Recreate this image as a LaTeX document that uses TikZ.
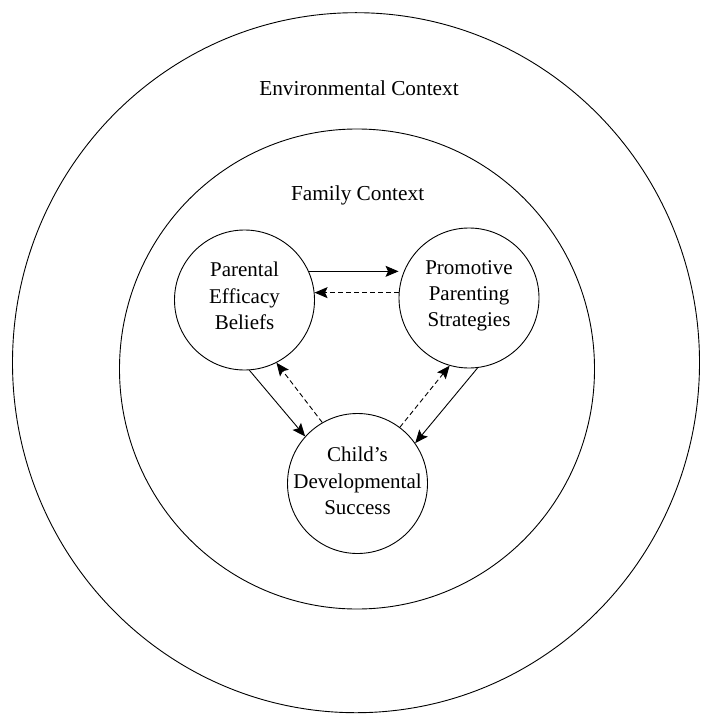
\documentclass[tikz,border=0pt]{standalone}
\usepackage{fontspec}
\setmainfont{Liberation Serif}
\usetikzlibrary{arrows.meta}
\begin{document}
\begin{tikzpicture}[x=1bp,y=-1bp,
  ring/.style={draw, line width=0.9bp},
  bubble/.style={draw, circle, line width=0.9bp, minimum size=140bp, inner sep=0pt},
  inlabel/.style={align=center, font=\fontsize{21bp}{26.3bp}\selectfont, inner sep=0pt},
  ctx/.style={font=\fontsize{21.3bp}{26bp}\selectfont, anchor=base, inner sep=0pt},
  link/.style={line width=0.9bp, -{Stealth[length=13bp,width=11bp,inset=2.5bp]}},
  dlink/.style={link, dash pattern=on 5bp off 3bp}]
\useasboundingbox (0,0) rectangle (701,714);
\draw[ring] (356,362.7) ellipse [x radius=343.5bp, y radius=350bp];
\draw[ring] (357,369) ellipse [x radius=237.5bp, y radius=240bp];
\node[ctx] (env) at (359,95.6) {Environmental Context};
\node[ctx] (fam) at (357.6,200) {Family Context};
\node[bubble, label={[inlabel, yshift=4bp]center:Parental\\Efficacy\\Beliefs}] (par) at (244.5,300) {};
\node[bubble, label={[inlabel, yshift=2bp]center:Promotive\\Parenting\\Strategies}] (pro) at (469,298) {};
\node[bubble, label={[inlabel, yshift=2.5bp]center:Child’s\\Developmental\\Success}] (chi) at (357.5,483.5) {};
\draw[link] (par.24) -- (par.24 -| pro.west);
\draw[dlink] (par.6 -| pro.west) -- (par.6);
\draw[link] (par.-86) -- (chi.138);
\draw[dlink] (chi.120) -- (par.-63);
\draw[dlink] (chi.53) -- (pro.-106);
\draw[link] (pro.-83) -- (chi.35);
\end{tikzpicture}
\end{document}
